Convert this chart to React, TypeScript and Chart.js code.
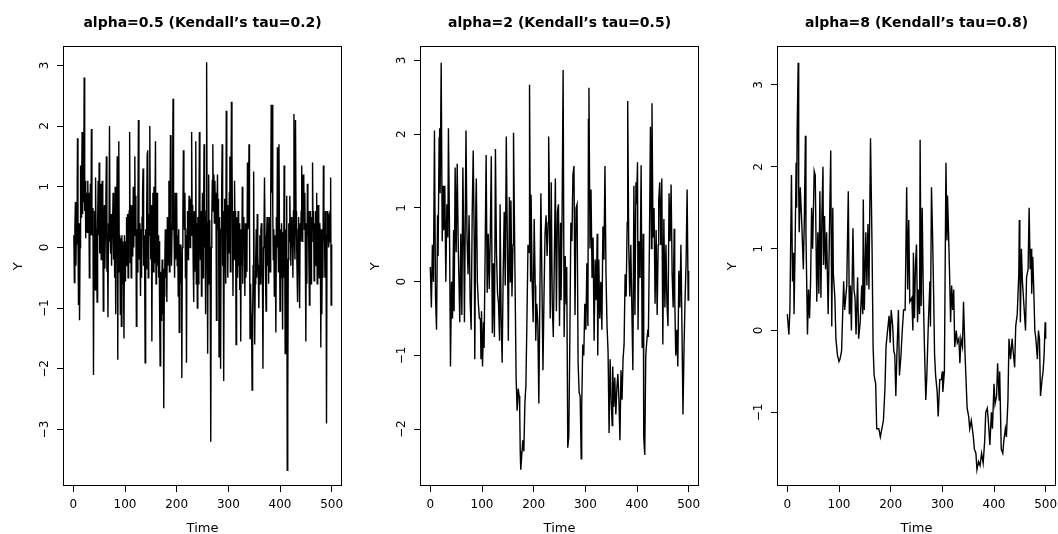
import React, { useEffect, useRef } from "react";
import { Chart, registerables } from "chart.js";

Chart.register(...registerables);

// ---------------- data ----------------
const timeTicks = [0, 100, 200, 300, 400, 500];
const leftTicks = [-3, -2, -1, 0, 1, 2, 3];
const midTicks = [-2, -1, 0, 1, 2, 3];
const rightTicks = [-1, 0, 1, 2, 3];

const titles = [
  "alpha=0.5 (Kendall\u2019s tau=0.2)",
  "alpha=2 (Kendall\u2019s tau=0.5)",
  "alpha=8 (Kendall\u2019s tau=0.8)",
];

// alpha = 0.5 : one value per time step (t = 1..500)
const leftValues = [
  0.2, -0.58, 0.3, 0.75, -0.3, 0.45, 0.05, 1.8, 0.2, -0.95,
  0.4, -1.2, 0.0, 1.35, 0.5, 0.9, 1.9, 0.55, 1.05, 0.75,
  2.8, 0.6, 1.1, 0.15, 0.9, 0.3, 0.25, 1.1, 0.35, 0.9,
  -0.5, 0.3, 1.05, 0.2, 1.95, 0.4, 0.2, 0.65, -2.1, 0.1,
  0.6, -0.7, 1.15, 0.3, 0.0, -0.9, 0.4, 1.1, 0.2, 1.4,
  -0.1, 1.05, 0.3, -0.2, 0.9, 1.1, 0.5, -1.05, 0.3, 0.7,
  -0.35, 0.25, 0.8, 1.5, -0.4, 0.2, -1.15, 0.4, 0.1, 2.0,
  0.3, -0.1, 0.55, -0.3, 0.2, 0.4, 0.9, -0.2, 0.35, -0.5,
  1.0, -1.1, 0.2, 0.6, 1.5, -1.85, 1.0, 1.75, -0.4, 0.2,
  -1.1, 0.15, -1.3, 0.2, -0.6, 0.1, -0.45, -1.5, 0.2, -0.55,
  0.1, -0.3, 0.5, 0.0, 0.55, -0.5, 0.25, 0.6, 1.9, -0.25,
  0.7, -0.5, 0.3, 0.7, -0.15, 1.0, 0.0, 0.6, 1.5, 0.2,
  0.85, -1.3, 0.3, -0.4, 0.6, 2.1, -0.2, 0.4, 0.15, -0.8,
  0.3, -0.5, 0.5, 0.9, 1.3, -0.3, 0.2, -0.25, -1.9, 0.3,
  -0.35, 0.6, 1.55, 1.6, -0.5, 0.55, 0.2, 2.0, 0.4, -0.2,
  0.7, -1.55, 0.3, 0.9, -0.4, 1.0, -0.25, 0.6, 1.75, -0.6,
  0.4, 0.9, -0.3, 0.2, -0.5, 0.1, -1.0, -1.95, -0.4, -1.2,
  -0.7, -0.2, -1.1, -0.35, -2.65, -0.8, -0.3, 0.3, -0.5, 0.0,
  -0.9, 0.5, -0.3, 0.2, 1.1, -0.4, 0.4, 1.85, 0.5, -0.3,
  0.3, 1.1, 2.45, 0.6, 0.2, -0.5, 0.9, -0.2, 0.45, 0.9,
  -0.3, 0.2, -0.8, 0.3, -1.4, -0.2, 0.05, -0.6, -0.1, -2.15,
  0.0, 0.5, 1.6, 0.6, 0.3, 0.9, -0.5, 0.2, -1.9, 0.3,
  0.6, -0.2, 0.3, 0.85, 0.5, 0.0, 0.8, 0.2, 1.9, 0.4,
  0.7, -0.3, -0.9, 0.6, -0.4, 0.3, 1.75, -0.6, 0.4, -1.0,
  0.5, -0.6, 0.2, 1.9, 0.3, -0.2, 0.6, -0.8, 0.3, 0.9,
  -0.5, 0.4, 1.7, 0.0, 0.5, -1.1, 0.6, 3.05, 0.1, -1.75,
  0.4, 1.2, -0.6, 0.45, -0.8, -3.2, 0.0, 0.5, 1.1, 1.7,
  0.6, 1.2, 0.4, 1.1, 0.55, 0.9, -1.2, 0.6, 1.2, 0.3,
  0.8, -1.8, 0.5, -0.4, -2.0, 0.3, 0.8, 1.7, -0.3, 0.6,
  -2.2, -0.1, 0.8, 0.2, -0.6, 2.25, 0.8, 0.3, -0.5, 0.7,
  -0.1, 0.9, 1.5, -0.4, 0.6, 2.4, 1.6, 0.3, -0.8, 0.6,
  -0.2, 1.1, 0.3, 0.6, -1.6, 0.5, 0.1, -0.5, 0.6, -0.3,
  0.4, -0.7, 0.3, -1.55, 0.2, -0.3, 1.0, -0.6, 0.5, 0.0,
  0.3, -0.8, 0.4, -0.5, 0.2, -0.4, 1.4, 0.3, 0.5, 1.7,
  0.4, -1.5, -0.6, -1.1, -1.3, -2.35, -1.2, -0.3, 1.25, -0.5,
  -1.6, -0.6, -0.2, 0.3, -0.5, 0.55, -0.1, -0.4, -1.0, -0.3,
  0.2, -0.6, 0.3, 0.4, -0.3, -0.5, -2.0, 0.0, 0.3, 1.15,
  0.2, -0.5, -1.05, 0.1, 0.5, -0.3, 0.4, -0.6, 0.5, 0.1,
  -0.4, 0.8, 2.35, 0.9, 2.35, 0.6, -0.2, 0.3, -0.8, 0.2,
  -0.3, -1.4, 0.5, 0.0, 1.65, 0.3, -0.4, 1.7, 0.2, -1.05,
  0.3, -0.5, 0.4, 0.0, -1.35, 0.25, -0.5, 1.35, 0.4, -1.75,
  0.3, -0.4, 0.85, -3.67, -2.5, -0.2, 0.4, 0.1, 0.85, 0.3,
  -0.3, 0.5, 0.0, 0.2, -0.5, 0.6, 2.2, 0.1, -0.2, 2.1,
  0.6, 0.2, -0.4, -0.9, 0.3, 0.5, -0.3, -1.0, 0.4, 0.1,
  0.6, 1.35, 0.1, 0.7, 1.2, 1.15, 0.3, 0.9, 0.0, -1.55,
  0.4, -0.6, 1.05, 0.2, 0.6, -0.3, -0.95, 0.2, 0.6, -0.6,
  0.5, 0.3, 1.4, 0.1, 0.6, -0.55, 0.4, -0.3, 0.6, 0.0,
  0.9, -0.6, 0.3, 0.7, -0.3, -0.5, 0.4, 0.2, -1.65, 0.3,
  -1.1, 0.2, -0.5, 1.35, 0.1, 0.4, -0.5, 0.6, 0.3, -2.9,
  0.2, 0.6, 0.55, 0.0, 0.1, 0.5, 0.6, 1.15, -0.95, 0.05,
];

// alpha = 2 : [time, value]
const midSeries: [number, number][] = [
  [0, 0.2], [2, -0.35], [4, 0.5], [6, 0.0], [8, 2.05], [10, -0.2], [12, -0.65], [14, 0.9], [15, 0.35], [17, 1.95],
  [18, 2.08], [19, 1.2], [21, 2.97], [23, 0.55], [25, 1.3], [26, 0.7], [28, 1.3], [30, 0.0], [32, 1.05], [34, 0.6],
  [35, 2.08], [37, 0.8], [39, -1.15], [41, 0.0], [43, -0.5], [45, 0.7], [46, -0.4], [48, 1.55], [50, 0.4], [52, 1.6],
  [54, 0.5], [57, -0.55], [59, 0.65], [61, -0.45], [63, 1.55], [65, 0.3], [66, -0.55], [69, 2.05], [71, 0.6], [73, 0.1],
  [75, 0.9], [77, -0.25], [79, -0.65], [81, 0.9], [83, 1.78], [85, 0.5], [86, -1.05], [88, 1.05], [89, 1.4], [91, 0.0],
  [93, -0.3], [95, -0.5], [97, -0.5], [98, -1.05], [99, -0.4], [101, -1.15], [103, -0.55], [104, -0.9], [106, 0.35], [108, 1.72],
  [110, -0.15], [112, 0.65], [114, -0.1], [116, 0.6], [118, 1.7], [120, -0.7], [122, 0.25], [124, -0.75], [126, 1.8], [128, 0.4],
  [130, -0.15], [132, -0.3], [134, -0.8], [135, 1.05], [137, -0.45], [139, -1.1], [141, 0.1], [143, 0.95], [145, -0.05], [147, 1.97],
  [149, 0.55], [151, -0.8], [153, 1.15], [155, 0.0], [156, 1.1], [158, -0.2], [160, 0.5], [161, 2.02], [164, 0.0], [166, -1.3],
  [168, -1.75], [170, -1.45], [172, -1.55], [173, -1.75], [174, -2.3], [175, -2.55], [177, -2.35], [179, -2.15], [181, -2.3], [183, -1.65],
  [185, -1.4], [187, -0.5], [189, 0.5], [191, 0.4], [192, 2.67], [194, 0.0], [195, 1.18], [197, 0.0], [199, -0.55], [201, 0.85],
  [203, -0.05], [204, -0.8], [206, -0.3], [208, -0.55], [210, -1.65], [212, -0.2], [214, 1.2], [216, 0.0], [218, -1.2], [220, -0.2],
  [222, 0.65], [224, 0.9], [226, 0.35], [228, 0.8], [229, 1.97], [230, 1.45], [232, -0.5], [234, 1.35], [236, -0.3], [238, -0.75],
  [240, 0.3], [242, 1.4], [244, -0.4], [246, 0.95], [248, 1.05], [250, -0.6], [252, 0.8], [253, -0.25], [255, 0.9], [257, 2.87],
  [259, -0.75], [261, 0.35], [263, -0.3], [264, 0.2], [266, -2.25], [268, -2.1], [270, -0.8], [272, 0.8], [274, 0.55], [276, 1.45],
  [278, 1.57], [280, -0.45], [282, 1.0], [284, 1.05], [286, -1.1], [288, -1.5], [290, -1.55], [292, -2.4], [293, -1.7], [295, -0.85],
  [297, -1.0], [299, -0.3], [301, -0.65], [303, 0.25], [305, -0.6], [306, 2.2], [307, 2.63], [309, 0.45], [311, 1.25], [313, 0.05],
  [315, 0.6], [317, -0.8], [319, 0.3], [321, -0.25], [323, 0.65], [324, -1.0], [326, 0.3], [328, -0.5], [330, 0.0], [332, -0.65],
  [334, 0.75], [336, 0.3], [338, 1.57], [340, 0.1], [342, -0.6], [344, -0.95], [346, -2.05], [348, -1.05], [350, -1.6], [352, -1.95],
  [353, -1.15], [355, -1.7], [357, -1.3], [359, -1.8], [361, -1.45], [363, -1.25], [365, -1.6], [367, -2.15], [369, -1.2], [371, -1.6],
  [373, -1.05], [375, -0.85], [377, 0.1], [379, -0.2], [381, 0.8], [382, 2.45], [384, 0.5], [386, -0.2], [388, 0.5], [390, -0.35],
  [392, -1.2], [394, 1.3], [396, -0.45], [398, 1.35], [399, 1.05], [401, 1.62], [402, -0.65], [404, 0.55], [406, 0.05], [408, 1.58],
  [410, -0.9], [412, 0.65], [413, -2.1], [415, -2.35], [417, -1.0], [419, -0.8], [421, -0.65], [422, -0.75], [424, 0.5], [426, 2.1],
  [428, 0.45], [429, 2.42], [431, 0.6], [433, 1.0], [435, -0.3], [437, 0.7], [439, -0.45], [441, 0.5], [442, 1.1], [444, 1.35],
  [446, 0.5], [448, 1.4], [450, -0.85], [452, 0.85], [454, -0.35], [456, 0.5], [458, -0.3], [460, -0.6], [462, 1.2], [464, 0.55],
  [466, 1.32], [468, 0.1], [470, -0.35], [472, 0.72], [473, -0.2], [475, -1.0], [477, -0.65], [479, -1.15], [481, 0.15], [483, -0.35],
  [485, 0.5], [487, -0.6], [489, -1.8], [491, -0.9], [493, -0.25], [495, 0.25], [497, 1.25], [499, -0.25], [500, 0.15],
];

// alpha = 8 : [time, value]
const rightSeries: [number, number][] = [
  [0, 0.2], [3, -0.05], [5, 0.25], [8, 1.9], [10, 0.6], [12, 0.95], [13, 0.2], [15, 1.0], [17, 2.05], [18, 1.5],
  [19, 2.45], [21, 3.27], [22, 1.7], [23, 1.2], [25, 1.75], [28, 1.3], [31, 0.75], [33, 1.4], [35, 2.38], [36, 1.2],
  [39, -0.05], [41, 0.5], [43, 0.15], [45, 0.6], [47, 1.5], [49, 1.0], [52, 1.95], [54, 1.9], [57, 0.35], [59, 1.2],
  [61, 0.45], [63, 1.7], [65, 0.4], [67, 1.45], [69, 2.0], [70, 0.8], [72, 1.4], [74, 0.75], [76, 1.2], [79, 0.2],
  [81, 1.0], [84, 2.2], [86, 0.05], [88, 1.5], [89, 0.7], [92, 0.4], [94, -0.1], [97, -0.3], [100, -0.38], [102, -0.35],
  [105, -0.25], [109, 0.6], [111, 0.25], [115, 0.55], [118, 1.7], [120, 0.2], [122, 0.55], [124, 0.0], [127, 1.25], [129, 0.5],
  [131, 0.4], [133, -0.05], [136, 0.65], [138, -0.1], [141, 0.1], [144, 0.55], [146, 0.2], [147, 1.6], [149, 0.25], [152, 1.2],
  [154, 0.55], [156, 1.3], [158, 0.5], [161, 2.35], [164, 1.0], [166, -0.2], [168, -0.55], [171, -0.65], [173, -1.2], [177, -1.2],
  [180, -1.3], [183, -1.2], [186, -1.1], [189, -0.7], [191, -0.2], [194, 0.0], [197, 0.18], [199, -0.15], [201, 0.25], [204, 0.05],
  [206, -0.25], [208, -0.3], [210, -0.8], [212, -0.3], [215, 0.25], [217, -0.55], [220, -0.3], [222, -0.05], [225, 0.25], [228, 0.25],
  [231, 1.75], [233, 0.5], [235, 1.35], [237, 0.35], [241, 0.4], [243, 0.0], [244, 0.95], [246, 0.15], [248, 0.8], [250, 1.05],
  [252, 0.1], [254, 0.5], [256, 0.2], [257, 2.33], [259, 0.3], [261, 1.5], [263, 0.5], [265, -0.1], [268, -0.85], [270, -0.55],
  [273, 0.1], [276, 0.6], [277, 0.05], [279, 1.75], [281, 1.2], [283, 0.5], [285, -0.3], [287, -0.55], [290, -0.75], [292, -1.05],
  [295, -0.6], [298, -0.6], [300, -0.5], [301, -0.75], [304, -0.5], [307, 2.05], [309, 1.1], [310, 1.65], [312, 1.2], [314, 0.7],
  [316, 0.1], [318, 0.55], [320, 0.25], [322, 0.5], [324, -0.2], [327, 0.0], [329, -0.15], [332, -0.1], [334, -0.4], [336, -0.1],
  [339, -0.2], [341, 0.35], [344, -0.3], [348, -0.95], [351, -1.05], [353, -1.2], [356, -1.1], [360, -1.3], [362, -1.45], [365, -1.5],
  [367, -1.7], [370, -1.6], [373, -1.65], [376, -1.5], [379, -1.62], [382, -1.35], [384, -1.0], [387, -0.95], [389, -1.1], [392, -1.4],
  [395, -1.0], [397, -1.2], [400, -0.65], [402, -0.9], [405, -0.8], [407, -0.4], [410, -0.85], [411, -0.5], [414, -1.45], [417, -1.5],
  [419, -1.35], [422, -1.2], [424, -1.3], [427, -0.85], [429, -0.1], [432, -0.35], [435, -0.1], [437, -0.25], [440, -0.45], [442, 0.05],
  [445, 0.2], [448, 0.7], [449, 1.35], [450, 0.9], [451, 0.1], [453, 1.0], [455, 0.6], [458, 0.3], [461, 0.0], [463, 0.65],
  [466, 0.75], [468, 1.5], [470, 0.75], [472, 1.0], [473, 0.45], [475, 0.9], [477, 0.5], [479, 0.0], [481, -0.1], [484, -0.35],
  [486, 0.0], [488, -0.1], [490, -0.8], [493, -0.6], [495, -0.5], [497, -0.3], [499, 0.1], [500, -0.1],
];

// ---------------- layout (page pixels) ----------------
const PAGE_W = 1058;
const PAGE_H = 534;
const BOX_TOP = 46.5;
const BOX_BOTTOM = 486;
const AXIS_W = 50;
const AXIS_H = 40;
const FONT = '"DejaVu Sans", "Liberation Sans", Arial, sans-serif';

type Panel = {
  title: string;
  points: { x: number; y: number }[];
  yTicks: number[];
  yMin: number;
  yMax: number;
  boxLeft: number;
  boxRight: number;
};

const panels: Panel[] = [
  {
    title: titles[0],
    points: leftValues.map((v, i) => ({ x: i + 1, y: v })),
    yTicks: leftTicks,
    yMin: -3.93,
    yMax: 3.31,
    boxLeft: 63,
    boxRight: 342,
  },
  {
    title: titles[1],
    points: midSeries.map(([t, v]) => ({ x: t, y: v })),
    yTicks: midTicks,
    yMin: -2.77,
    yMax: 3.19,
    boxLeft: 420,
    boxRight: 699,
  },
  {
    title: titles[2],
    points: rightSeries.map(([t, v]) => ({ x: t, y: v })),
    yTicks: rightTicks,
    yMin: -1.9,
    yMax: 3.47,
    boxLeft: 777,
    boxRight: 1056,
  },
];

const fmt = (v: number) => (v < 0 ? "\u2212" + String(-v) : String(v));

function makeFramePlugin(p: Panel, idx: number) {
  return {
    id: "rframe" + idx,
    afterDraw(chart: any) {
      const ctx = chart.ctx as CanvasRenderingContext2D;
      const a = chart.chartArea;
      ctx.save();
      // box
      ctx.strokeStyle = "#000";
      ctx.lineWidth = 1;
      const l = Math.round(a.left) + 0.5;
      const r = Math.round(a.right) - 0.5;
      const t = Math.floor(a.top) + 0.5;
      const b = Math.round(a.bottom) - 0.5;
      ctx.strokeRect(l, t, r - l, b - t);

      ctx.fillStyle = "#000";
      const cx = (a.left + a.right) / 2;
      const cy = (a.top + a.bottom) / 2;

      // title
      ctx.font = "bold 14px " + FONT;
      ctx.textAlign = "center";
      ctx.textBaseline = "alphabetic";
      ctx.fillText(p.title, cx, 26.7);

      // x tick labels
      const xs = chart.scales.x;
      ctx.font = "12px " + FONT;
      xs.ticks.forEach((tk: any) => {
        ctx.fillText(fmt(tk.value), xs.getPixelForValue(tk.value), 508);
      });
      // x title
      ctx.font = "13px " + FONT;
      ctx.fillText("Time", cx, 532);

      // y tick labels (rotated)
      const ys = chart.scales.y;
      ctx.font = "12px " + FONT;
      ys.ticks.forEach((tk: any) => {
        ctx.save();
        ctx.translate(a.left - 15.5, ys.getPixelForValue(tk.value));
        ctx.rotate(-Math.PI / 2);
        ctx.fillText(fmt(tk.value), 0, 0);
        ctx.restore();
      });
      // y title
      ctx.font = "13px " + FONT;
      ctx.save();
      ctx.translate(a.left - 41.5, cy);
      ctx.rotate(-Math.PI / 2);
      ctx.fillText("Y", 0, 0);
      ctx.restore();

      ctx.restore();
    },
  };
}

function PanelChart({ p, idx }: { p: Panel; idx: number }) {
  const ref = useRef<HTMLCanvasElement | null>(null);
  useEffect(() => {
    if (!ref.current) return;
    const chart = new Chart(ref.current, {
      type: "line",
      data: {
        datasets: [
          {
            data: p.points,
            borderColor: "#000",
            borderWidth: 1.4,
            pointRadius: 0,
            pointHoverRadius: 0,
            tension: 0,
            fill: false,
          },
        ],
      },
      options: {
        responsive: false,
        animation: false,
        devicePixelRatio: 1,
        events: [],
        layout: {
          padding: {
            left: p.boxLeft - AXIS_W,
            right: PAGE_W - p.boxRight,
            top: BOX_TOP,
            bottom: PAGE_H - BOX_BOTTOM - AXIS_H,
          },
        },
        plugins: {
          legend: { display: false },
          title: { display: false },
          tooltip: { enabled: false },
        },
        scales: {
          x: {
            type: "linear",
            min: -20,
            max: 520,
            afterBuildTicks: (s: any) => {
              s.ticks = timeTicks.map((v) => ({ value: v }));
            },
            afterFit: (s: any) => {
              s.height = AXIS_H;
            },
            ticks: { display: false },
            grid: {
              display: true,
              drawOnChartArea: false,
              drawTicks: true,
              tickLength: 6,
              color: "#000",
              lineWidth: 1,
            },
            border: { display: false },
          },
          y: {
            type: "linear",
            min: p.yMin,
            max: p.yMax,
            afterBuildTicks: (s: any) => {
              s.ticks = p.yTicks.map((v) => ({ value: v }));
            },
            afterFit: (s: any) => {
              s.width = AXIS_W;
            },
            ticks: { display: false },
            grid: {
              display: true,
              drawOnChartArea: false,
              drawTicks: true,
              tickLength: 6,
              color: "#000",
              lineWidth: 1,
            },
            border: { display: false },
          },
        },
      } as any,
      plugins: [makeFramePlugin(p, idx)],
    });
    return () => chart.destroy();
  }, [p, idx]);
  return (
    <canvas
      ref={ref}
      width={PAGE_W}
      height={PAGE_H}
      style={{
        position: "absolute",
        left: 0,
        top: 0,
        width: PAGE_W,
        height: PAGE_H,
        pointerEvents: "none",
      }}
    />
  );
}

export default function App() {
  return (
    <div
      style={{
        position: "fixed",
        left: 0,
        top: 0,
        width: PAGE_W,
        height: PAGE_H,
        background: "#fff",
        overflow: "hidden",
      }}
    >
      {panels.map((p, i) => (
        <PanelChart key={i} p={p} idx={i} />
      ))}
    </div>
  );
}
